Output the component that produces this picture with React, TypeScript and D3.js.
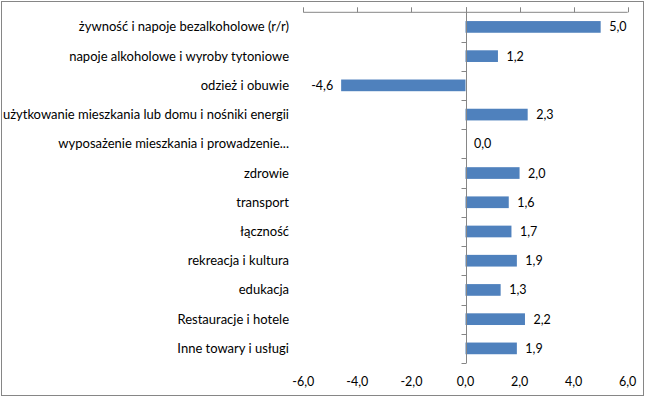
import React from "react";
import * as d3 from "d3";

const categories = [
  "żywność i napoje bezalkoholowe (r/r)",
  "napoje alkoholowe  i wyroby tytoniowe",
  "odzież i obuwie",
  "użytkowanie mieszkania lub domu i nośniki energii",
  "wyposażenie mieszkania i prowadzenie...",
  "zdrowie",
  "transport",
  "łączność",
  "rekreacja i kultura",
  "edukacja",
  "Restauracje i hotele",
  "Inne towary i usługi",
];
const values = [5.0, 1.2, -4.6, 2.3, 0.0, 2.0, 1.6, 1.7, 1.9, 1.3, 2.2, 1.9];
const tickValues = [-6, -4, -2, 0, 2, 4, 6];

const W = 645;
const H = 399;
const font = "Lato, 'Open Sans', sans-serif";
const grey = "#868686";

export default function App() {
  const x = d3.scaleLinear().domain([-6, 6]).range([303.3, 627.7]);
  const y = d3.scaleBand<string>().domain(categories).range([12.3, 363]).paddingInner(0.6).paddingOuter(0.3);
  const band = d3.scaleBand<string>().domain(categories).range([12.3, 363]);
  const fmt = (v: number) => v.toFixed(1).replace(".", ",");
  const x0 = x(0);
  const axisY = 12.3;
  const bottom = 363;

  return (
    <svg width={W} height={H} style={{ position: "absolute", left: 0, top: 0 }}>
      <rect x={0} y={0} width={W} height={H} fill="#fff" />
      <rect x={1.5} y={1.5} width={642} height={394} fill="none" stroke={grey} strokeWidth={1} />
      {/* top horizontal axis */}
      <line x1={x(-6)} x2={x(6)} y1={axisY} y2={axisY} stroke={grey} strokeWidth={1} />
      {tickValues.map((t) => (
        <line key={"t" + t} x1={Math.round(x(t)) + 0.5} x2={Math.round(x(t)) + 0.5} y1={axisY - 5} y2={axisY} stroke={grey} />
      ))}
      {/* bottom tick labels */}
      {tickValues.map((t) => (
        <text key={"l" + t} x={x(t)} y={386} textAnchor="middle" fontFamily={font} fontSize={12.5} fill="#000">
          {fmt(t)}
        </text>
      ))}
      {/* bars */}
      {categories.map((c, i) => {
        const v = values[i];
        const x1 = Math.min(x(v), x0);
        const w = Math.abs(x(v) - x0);
        return (
          <rect key={"b" + i} x={x1} y={y(c)!} width={w} height={y.bandwidth()} fill="#4F81BD" />
        );
      })}
      {/* vertical axis */}
      <line x1={Math.round(x0) + 0.5} x2={Math.round(x0) + 0.5} y1={axisY - 5} y2={bottom} stroke={grey} />
      {categories.map((c, i) => (
        <line
          key={"ct" + i}
          x1={Math.round(x0) - 4.5}
          x2={Math.round(x0) + 0.5}
          y1={Math.round(band(c)! + band.bandwidth()) + 0.5}
          y2={Math.round(band(c)! + band.bandwidth()) + 0.5}
          stroke={grey}
        />
      ))}
      {/* category labels */}
      {categories.map((c) => (
        <text key={"c" + c} x={289} y={band(c)! + band.bandwidth() / 2 + 4.5} textAnchor="end" fontFamily={font} fontSize={13} fill="#000">
          {c}
        </text>
      ))}
      {/* value labels */}
      {categories.map((c, i) => {
        const v = values[i];
        const neg = v < 0;
        return (
          <text
            key={"v" + i}
            x={neg ? x(v) - 8 : x(v) + 8.5}
            y={y(c)! + y.bandwidth() / 2 + 4.5}
            textAnchor={neg ? "end" : "start"}
            fontFamily={font}
            fontSize={12.5}
            fill="#000"
          >
            {fmt(v)}
          </text>
        );
      })}
    </svg>
  );
}
